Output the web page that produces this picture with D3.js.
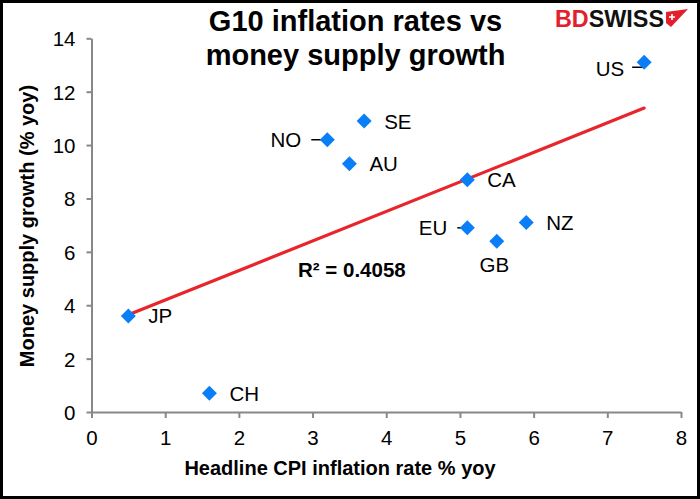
<!DOCTYPE html>
<html>
<head>
	<meta charset="utf-8">
	<title>G10 inflation rates vs money supply growth</title>
	<script src="https://d3js.org/d3.v7.min.js"></script>
	<style>
		body { margin: 0; background: #fff; }
		svg text { font-family: Arial, "Liberation Sans", sans-serif; }
	</style>
</head>
<body>
	<svg id="chart" width="700" height="499"></svg>
<script type="text/javascript">
	// values
	var countries = ['JP', 'CH', 'NO', 'SE', 'AU', 'CA', 'EU', 'GB', 'NZ', 'US'];
	var cpi       = [0.5, 1.6, 3.2, 3.7, 3.5, 5.1, 5.1, 5.5, 5.9, 7.5];
	var money     = [3.6, 0.7, 10.2, 10.9, 9.3, 8.7, 6.9, 6.4, 7.1, 13.1];
	var xTicks = [0, 1, 2, 3, 4, 5, 6, 7, 8];
	var yTicks = [0, 2, 4, 6, 8, 10, 12, 14];
	var rSquaredLabel = 'R² = 0.4058';

	// where each label sits next to its marker (lead = leader line length)
	var labelSide = {
		JP: {side: 'right'}, CH: {side: 'right'}, NO: {side: 'left', lead: 16},
		SE: {side: 'right'}, AU: {side: 'right'}, CA: {side: 'right'},
		EU: {side: 'left', lead: 10}, GB: {side: 'below'}, NZ: {side: 'right'},
		US: {side: 'leftUp', lead: 12}
	};

	var svg = d3.select('#chart');
	var x = d3.scaleLinear().domain([0, 8]).range([91.5, 681]);
	var y = d3.scaleLinear().domain([0, 14]).range([412, 38.3]);

	var points = countries.map(function(c, i) {
		return {name: c, x: cpi[i], y: money[i]};
	});

	// frame
	svg.append('rect')
		.attr('x', 1.5).attr('y', 1.5)
		.attr('width', 697).attr('height', 496)
		.attr('fill', '#fff')
		.attr('stroke', '#000')
		.attr('stroke-width', 3);

	// axes
	var xAxis = svg.append('g')
		.attr('transform', 'translate(0,' + y(0) + ')')
		.call(d3.axisBottom(x).tickValues(xTicks).tickSize(6).tickPadding(12).tickSizeOuter(0));
	var yAxis = svg.append('g')
		.attr('transform', 'translate(' + x(0) + ',0)')
		.call(d3.axisLeft(y).tickValues(yTicks).tickSize(5).tickPadding(11).tickSizeOuter(0));
	[xAxis, yAxis].forEach(function(a) {
		a.select('.domain').attr('stroke', '#888').attr('stroke-width', 2);
		a.selectAll('.tick line').attr('stroke', '#888').attr('stroke-width', 2);
		a.selectAll('.tick text')
			.attr('fill', '#000')
			.style('font-size', '20.5px');
	});
	yAxis.selectAll('.tick text').attr('dy', '0.36em');

	// least squares trend line
	var mx = d3.mean(cpi), my = d3.mean(money);
	var sxy = d3.sum(cpi, function(v, i) { return (v - mx) * (money[i] - my); });
	var sxx = d3.sum(cpi, function(v) { return (v - mx) * (v - mx); });
	var slope = sxy / sxx;
	var intercept = my - slope * mx;
	var xr = d3.extent(cpi);
	svg.append('line')
		.attr('x1', x(xr[0])).attr('y1', y(intercept + slope * xr[0]))
		.attr('x2', x(xr[1])).attr('y2', y(intercept + slope * xr[1]))
		.attr('stroke', '#e8252b')
		.attr('stroke-width', 3.2)
		.attr('stroke-linecap', 'round');

	// leader lines
	var leaders = svg.append('g').attr('stroke', '#000').attr('stroke-width', 1.5).attr('fill', 'none');
	points.forEach(function(d) {
		var px = x(d.x), py = y(d.y), l = labelSide[d.name];
		if (l.side === 'left') {
			leaders.append('line')
				.attr('x1', px - l.lead).attr('x2', px).attr('y1', py).attr('y2', py);
		} else if (l.side === 'leftUp') {
			leaders.append('path')
				.attr('d', 'M' + (px - l.lead) + ',' + (py + 5) + 'H' + (px - 1.5) + 'V' + py);
		}
	});

	// markers
	svg.append('g')
		.selectAll('path')
		.data(points)
		.enter()
		.append('path')
		.attr('d', d3.symbol().type(d3.symbolSquare).size(112))
		.attr('transform', function(d) {
			return 'translate(' + x(d.x) + ',' + y(d.y) + ') rotate(45)';
		})
		.attr('fill', '#0a7ef7');

	// country labels
	svg.append('g')
		.selectAll('text')
		.data(points)
		.enter()
		.append('text')
		.attr('x', function(d) {
			var l = labelSide[d.name];
			if (l.side === 'right') return x(d.x) + 20;
			if (l.side === 'left') return x(d.x) - l.lead - 10;
			if (l.side === 'leftUp') return x(d.x) - l.lead - 8;
			return x(d.x) - 2.5;
		})
		.attr('y', function(d) {
			var side = labelSide[d.name].side;
			if (side === 'below') return y(d.y) + 31;
			if (side === 'leftUp') return y(d.y) + 13.5;
			return y(d.y) + 7.5;
		})
		.attr('text-anchor', function(d) {
			var side = labelSide[d.name].side;
			if (side === 'right') return 'start';
			if (side === 'below') return 'middle';
			return 'end';
		})
		.style('font-size', '20.5px')
		.text(function(d) { return d.name; });

	// R squared
	svg.append('text')
		.attr('x', 298).attr('y', 277)
		.style('font-size', '20.5px')
		.style('font-weight', 'bold')
		.text(rSquaredLabel);

	// title
	var title = svg.append('text')
		.attr('x', 355.5)
		.attr('text-anchor', 'middle')
		.style('font-size', '29px')
		.style('font-weight', 'bold');
	title.append('tspan').attr('x', 355.5).attr('y', 31).text('G10 inflation rates vs');
	title.append('tspan').attr('x', 355.5).attr('y', 64.5).text('money supply growth');

	// axis titles
	svg.append('text')
		.attr('x', 340).attr('y', 475)
		.attr('text-anchor', 'middle')
		.style('font-size', '20px')
		.style('font-weight', 'bold')
		.text('Headline CPI inflation rate % yoy');
	svg.append('text')
		.attr('transform', 'translate(34,226) rotate(-90)')
		.attr('text-anchor', 'middle')
		.style('font-size', '20px')
		.style('font-weight', 'bold')
		.text('Money supply growth (% yoy)');

	// logo
	var logo = svg.append('text')
		.attr('x', 555).attr('y', 27)
		.attr('textLength', 109)
		.attr('lengthAdjust', 'spacingAndGlyphs')
		.style('font-size', '23px')
		.style('font-weight', 'bold');
	logo.append('tspan').attr('fill', '#e31e2d').text('BD');
	logo.append('tspan').attr('fill', '#111').text('SWISS');
	svg.append('path')
		.attr('d', 'M666,12 L688,9 L671,27 L666,23 Z')
		.attr('fill', '#e31e2d');
	svg.append('path')
		.attr('d', 'M669,17 h6 M672,14 v6')
		.attr('stroke', '#fff')
		.attr('stroke-width', 1.6);
</script>
</body>
</html>
